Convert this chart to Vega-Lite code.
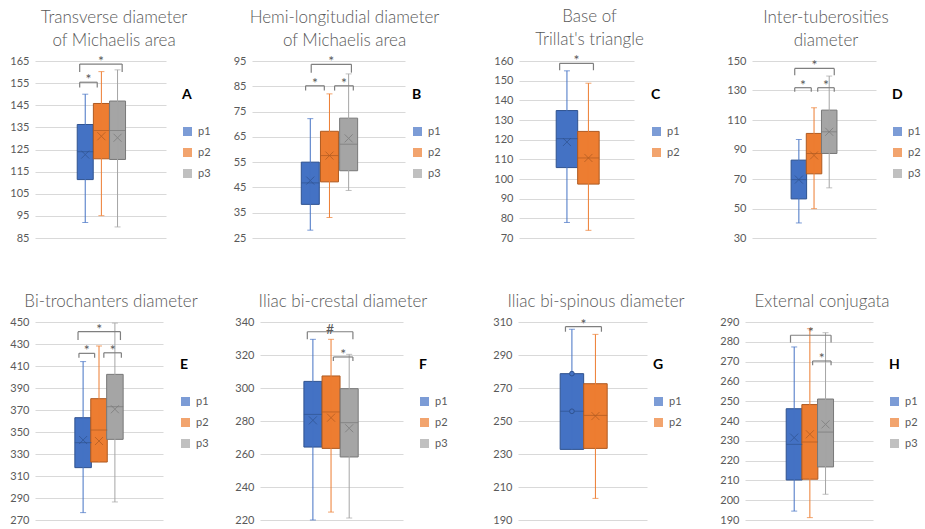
{
"$schema": "https://vega.github.io/schema/vega-lite/v6.json",
"padding": {"left": 0, "top": 8, "right": 0, "bottom": 0},
"background": "white",
"datasets": {
"boxes": [
{"panel":"A","group":"p1","g":1,"min":92,"q1":111.4,"median":124,"q3":136.3,"max":150,"mean":122.7},
{"panel":"A","group":"p2","g":2,"min":95.1,"q1":120.8,"median":133.6,"q3":145.8,"max":160.2,"mean":131},
{"panel":"A","group":"p3","g":3,"min":90,"q1":120.5,"median":133.6,"q3":146.9,"max":161,"mean":130.3},
{"panel":"B","group":"p1","g":1,"min":28.1,"q1":38.3,"median":46.8,"q3":55,"max":72.2,"mean":47.7},
{"panel":"B","group":"p2","g":2,"min":33.1,"q1":47.2,"median":57.6,"q3":67.2,"max":82,"mean":57.6},
{"panel":"B","group":"p3","g":3,"min":43.8,"q1":51.6,"median":62.1,"q3":72.4,"max":89.9,"mean":64.4},
{"panel":"C","group":"p1","g":1,"min":77.9,"q1":105.8,"median":120.5,"q3":134.8,"max":155,"mean":118.8},
{"panel":"C","group":"p2","g":2,"min":73.9,"q1":97.4,"median":110.7,"q3":124.2,"max":148.7,"mean":110.7},
{"panel":"D","group":"p1","g":1,"min":40.2,"q1":56.5,"median":69.6,"q3":82.8,"max":96.8,"mean":69.6},
{"panel":"D","group":"p2","g":2,"min":49.9,"q1":73.5,"median":87.3,"q3":100.9,"max":118.3,"mean":86},
{"panel":"D","group":"p3","g":3,"min":64,"q1":87.3,"median":102,"q3":116.7,"max":139.8,"mean":102},
{"panel":"E","group":"p1","g":1,"min":276.7,"q1":317.6,"median":340.3,"q3":363,"max":414,"mean":342.7},
{"panel":"E","group":"p2","g":2,"min":322.7,"q1":322.7,"median":351.8,"q3":380.3,"max":428.2,"mean":341.8},
{"panel":"E","group":"p3","g":3,"min":286.4,"q1":343.3,"median":373,"q3":402.4,"max":449,"mean":370.7},
{"panel":"F","group":"p1","g":1,"min":220,"q1":264.2,"median":284,"q3":304,"max":329.5,"mean":280.4},
{"panel":"F","group":"p2","g":2,"min":224.8,"q1":263.4,"median":285.5,"q3":307.3,"max":329.5,"mean":282},
{"panel":"F","group":"p3","g":3,"min":221.2,"q1":258.2,"median":279,"q3":299.6,"max":320.4,"mean":275.6},
{"panel":"G","group":"p1","g":1,"min":232.8,"q1":232.8,"median":255.9,"q3":278.7,"max":305.6,"mean":null},
{"panel":"G","group":"p2","g":2,"min":203.1,"q1":233.4,"median":253.4,"q3":272.6,"max":302.5,"mean":253},
{"panel":"H","group":"p1","g":1,"min":194.5,"q1":210.2,"median":228.2,"q3":246.2,"max":277.4,"mean":231.6},
{"panel":"H","group":"p2","g":2,"min":191.2,"q1":210.6,"median":229.4,"q3":248.3,"max":286.6,"mean":233.3},
{"panel":"H","group":"p3","g":3,"min":203,"q1":216.8,"median":234.4,"q3":251.1,"max":284.6,"mean":238.3}
],
"pts": [
{"panel":"G","group":"p1","g":1,"value":278.7},
{"panel":"G","group":"p1","g":1,"value":255.9}
],
"brackets": [
{"panel":"A","id":1,"x1":0.657,"x2":1.743,"level":155.4,"tip":153,"label":"*"},
{"panel":"A","id":2,"x1":0.657,"x2":3.286,"level":163.6,"tip":160,"label":"*"},
{"panel":"B","id":1,"x1":0.756,"x2":1.732,"level":85.2,"tip":83.3,"label":"*"},
{"panel":"B","id":2,"x1":2.268,"x2":3.244,"level":85.2,"tip":83.3,"label":"*"},
{"panel":"B","id":3,"x1":1.049,"x2":3.146,"level":93.7,"tip":90.4,"label":"*"},
{"panel":"C","id":1,"x1":0.66,"x2":2.234,"level":158.8,"tip":155.3,"label":"*"},
{"panel":"D","id":1,"x1":0.727,"x2":1.818,"level":131.9,"tip":129.2,"label":"*"},
{"panel":"D","id":2,"x1":2.242,"x2":3.333,"level":131.9,"tip":129.2,"label":"*"},
{"panel":"D","id":3,"x1":0.727,"x2":3.333,"level":145,"tip":140.3,"label":"*"},
{"panel":"E","id":1,"x1":0.739,"x2":1.725,"level":421.5,"tip":417.6,"label":"*"},
{"panel":"E","id":2,"x1":2.304,"x2":3.406,"level":422,"tip":417.6,"label":"*"},
{"panel":"E","id":3,"x1":0.681,"x2":3.348,"level":441.2,"tip":433.6,"label":"*"},
{"panel":"F","id":1,"x1":0.692,"x2":3.205,"level":334.1,"tip":329.5,"label":"#"},
{"panel":"F","id":2,"x1":2.128,"x2":3.205,"level":318.8,"tip":316.4,"label":"*"},
{"panel":"G","id":1,"x1":0.725,"x2":2.255,"level":307.2,"tip":304.1,"label":"*"},
{"panel":"H","id":1,"x1":0.765,"x2":3.353,"level":283.3,"tip":279.6,"label":"*"},
{"panel":"H","id":2,"x1":2.176,"x2":3.353,"level":270.3,"tip":268.2,"label":"*"}
]
},
"config": {
"view": {"stroke": null},
"font": "Lato",
"axis": {"domain": false, "ticks": false, "tickSize": 0, "labelPadding": 6, "labelColor": "#595959", "labelFontSize": 11, "labelFont": "Lato", "gridColor": "#D9D9D9", "gridWidth": 1},
"legend": {"orient": "none", "titleFontSize": 14, "titleFontWeight": "bold", "titleColor": "#000000", "titleFont": "Lato", "titlePadding": 24, "labelFontSize": 11, "labelColor": "#595959", "labelFont": "Lato", "symbolType": "square", "symbolSize": 81, "symbolStrokeWidth": 0, "rowPadding": 9, "labelOffset": 5, "padding": 0},
"title": {"fontSize": 17, "fontWeight": 300, "color": "#595959", "font": "Lato", "offset": 5, "lineHeight": 23, "anchor": "middle", "frame": "group"}
},
"spacing": 50,
"resolve": {"scale": {"color": "independent", "stroke": "independent", "fill": "independent", "x": "independent", "y": "independent"}},
"vconcat": [
{"spacing": 0, "resolve": {"scale": {"color": "independent", "stroke": "independent", "fill": "independent", "x": "independent", "y": "independent"}}, "hconcat": [
{"width": 131, "height": 177, "title": {"text": ["Transverse diameter", "of Michaelis area"], "dx": 13.5},
"data": {"name": "boxes"}, "transform": [{"filter": "datum.panel === 'A'"}],
"layer": [
{"mark": {"type": "bar", "width": 16, "strokeWidth": 1},
"encoding": {
"x": {"field": "g", "type": "quantitative", "scale": {"domain": [-1.8, 5.69], "nice": false, "zero": false}, "axis": null},
"y": {"field": "q1", "type": "quantitative", "scale": {"domain": [85, 165], "nice": false, "zero": false}, "axis": {"values": [85,95,105,115,125,135,145,155,165], "minExtent": 33, "title": null}},
"y2": {"field": "q3"},
"color": {"field": "group", "type": "nominal", "scale": {"domain": ["p1","p2","p3"], "range": ["#4472C4","#ED7D31","#A5A5A5"]}, "legend": {"title": "A", "legendX": 147, "legendY": 27}},
"stroke": {"field": "group", "type": "nominal", "scale": {"domain": ["p1","p2","p3"], "range": ["#2F528F","#AE5A21","#787878"]}, "legend": null}}},
{"mark": {"type": "rule", "strokeWidth": 1},
"encoding": {
"x": {"field": "g", "type": "quantitative", "scale": {"domain": [-1.8, 5.69], "nice": false, "zero": false}, "axis": null},
"y": {"field": "min", "type": "quantitative", "scale": {"domain": [85, 165], "nice": false, "zero": false}, "axis": {"values": [85,95,105,115,125,135,145,155,165], "minExtent": 33, "title": null}},
"y2": {"field": "max"},
"color": {"field": "group", "type": "nominal", "scale": {"domain": ["p1","p2","p3"], "range": ["#4472C4","#ED7D31","#A5A5A5"]}, "legend": {"title": "A", "legendX": 147, "legendY": 27}}}},
{"transform": [{"fold": ["min","max"], "as": ["k","v"]}, {"filter": "datum.k === 'max' || datum.min < datum.q1"}],
"mark": {"type": "tick", "orient": "horizontal", "size": 6, "thickness": 1},
"encoding": {
"x": {"field": "g", "type": "quantitative", "scale": {"domain": [-1.8, 5.69], "nice": false, "zero": false}, "axis": null},
"y": {"field": "v", "type": "quantitative", "scale": {"domain": [85, 165], "nice": false, "zero": false}, "axis": {"values": [85,95,105,115,125,135,145,155,165], "minExtent": 33, "title": null}},
"color": {"field": "group", "type": "nominal", "scale": {"domain": ["p1","p2","p3"], "range": ["#4472C4","#ED7D31","#A5A5A5"]}, "legend": {"title": "A", "legendX": 147, "legendY": 27}}}},
{"mark": {"type": "tick", "orient": "horizontal", "size": 16, "thickness": 1},
"encoding": {
"x": {"field": "g", "type": "quantitative", "scale": {"domain": [-1.8, 5.69], "nice": false, "zero": false}, "axis": null},
"y": {"field": "median", "type": "quantitative", "scale": {"domain": [85, 165], "nice": false, "zero": false}, "axis": {"values": [85,95,105,115,125,135,145,155,165], "minExtent": 33, "title": null}},
"fill": {"field": "group", "type": "nominal", "scale": {"domain": ["p1","p2","p3"], "range": ["#2F528F","#AE5A21","#787878"]}, "legend": null}}},
{"transform": [{"filter": "isValid(datum.mean)"}],
"mark": {"type": "point", "shape": "M-1,-1L1,1M-1,1L1,-1", "size": 64, "filled": false, "strokeWidth": 1},
"encoding": {
"x": {"field": "g", "type": "quantitative", "scale": {"domain": [-1.8, 5.69], "nice": false, "zero": false}, "axis": null},
"y": {"field": "mean", "type": "quantitative", "scale": {"domain": [85, 165], "nice": false, "zero": false}, "axis": {"values": [85,95,105,115,125,135,145,155,165], "minExtent": 33, "title": null}},
"stroke": {"field": "group", "type": "nominal", "scale": {"domain": ["p1","p2","p3"], "range": ["#2F528F","#AE5A21","#787878"]}, "legend": null}}},
{"data": {"name": "brackets"}, "transform": [{"filter": "datum.panel === 'A'"}],
"mark": {"type": "rule", "color": "#7F7F7F", "strokeWidth": 1.2},
"encoding": {
"x": {"field": "x1", "type": "quantitative", "scale": {"domain": [-1.8, 5.69], "nice": false, "zero": false}, "axis": null},
"x2": {"field": "x2"},
"y": {"field": "level", "type": "quantitative", "scale": {"domain": [85, 165], "nice": false, "zero": false}, "axis": {"values": [85,95,105,115,125,135,145,155,165], "minExtent": 33, "title": null}}}},
{"data": {"name": "brackets"}, "transform": [{"filter": "datum.panel === 'A'"}, {"fold": ["x1","x2"], "as": ["e","xe"]}],
"mark": {"type": "rule", "color": "#7F7F7F", "strokeWidth": 1.2},
"encoding": {
"x": {"field": "xe", "type": "quantitative", "scale": {"domain": [-1.8, 5.69], "nice": false, "zero": false}, "axis": null},
"y": {"field": "level", "type": "quantitative", "scale": {"domain": [85, 165], "nice": false, "zero": false}, "axis": {"values": [85,95,105,115,125,135,145,155,165], "minExtent": 33, "title": null}},
"y2": {"field": "tip"}}},
{"data": {"name": "brackets"}, "transform": [{"filter": "datum.panel === 'A'"}, {"fold": ["x1","x2"], "as": ["e","xe"]}, {"aggregate": [{"op": "mean", "field": "xe", "as": "mid"}], "groupby": ["id","level","label"]}],
"mark": {"type": "text", "fontSize": 14, "color": "#595959", "baseline": "alphabetic", "dy": 2},
"encoding": {
"x": {"field": "mid", "type": "quantitative", "scale": {"domain": [-1.8, 5.69], "nice": false, "zero": false}, "axis": null},
"y": {"field": "level", "type": "quantitative", "scale": {"domain": [85, 165], "nice": false, "zero": false}, "axis": {"values": [85,95,105,115,125,135,145,155,165], "minExtent": 33, "title": null}},
"text": {"field": "label"}}}
]},
{"width": 153, "height": 177, "title": {"text": ["Hemi-longitudial diameter", "of Michaelis area"], "dx": 16},
"data": {"name": "boxes"}, "transform": [{"filter": "datum.panel === 'B'"}],
"layer": [
{"mark": {"type": "bar", "width": 18, "strokeWidth": 1},
"encoding": {
"x": {"field": "g", "type": "quantitative", "scale": {"domain": [-1.78, 5.68], "nice": false, "zero": false}, "axis": null},
"y": {"field": "q1", "type": "quantitative", "scale": {"domain": [25, 95], "nice": false, "zero": false}, "axis": {"values": [25,35,45,55,65,75,85,95], "minExtent": 41, "title": null}},
"y2": {"field": "q3"},
"color": {"field": "group", "type": "nominal", "scale": {"domain": ["p1","p2","p3"], "range": ["#4472C4","#ED7D31","#A5A5A5"]}, "legend": {"title": "B", "legendX": 160, "legendY": 27}},
"stroke": {"field": "group", "type": "nominal", "scale": {"domain": ["p1","p2","p3"], "range": ["#2F528F","#AE5A21","#787878"]}, "legend": null}}},
{"mark": {"type": "rule", "strokeWidth": 1},
"encoding": {
"x": {"field": "g", "type": "quantitative", "scale": {"domain": [-1.78, 5.68], "nice": false, "zero": false}, "axis": null},
"y": {"field": "min", "type": "quantitative", "scale": {"domain": [25, 95], "nice": false, "zero": false}, "axis": {"values": [25,35,45,55,65,75,85,95], "minExtent": 41, "title": null}},
"y2": {"field": "max"},
"color": {"field": "group", "type": "nominal", "scale": {"domain": ["p1","p2","p3"], "range": ["#4472C4","#ED7D31","#A5A5A5"]}, "legend": {"title": "B", "legendX": 160, "legendY": 27}}}},
{"transform": [{"fold": ["min","max"], "as": ["k","v"]}, {"filter": "datum.k === 'max' || datum.min < datum.q1"}],
"mark": {"type": "tick", "orient": "horizontal", "size": 6, "thickness": 1},
"encoding": {
"x": {"field": "g", "type": "quantitative", "scale": {"domain": [-1.78, 5.68], "nice": false, "zero": false}, "axis": null},
"y": {"field": "v", "type": "quantitative", "scale": {"domain": [25, 95], "nice": false, "zero": false}, "axis": {"values": [25,35,45,55,65,75,85,95], "minExtent": 41, "title": null}},
"color": {"field": "group", "type": "nominal", "scale": {"domain": ["p1","p2","p3"], "range": ["#4472C4","#ED7D31","#A5A5A5"]}, "legend": {"title": "B", "legendX": 160, "legendY": 27}}}},
{"mark": {"type": "tick", "orient": "horizontal", "size": 18, "thickness": 1},
"encoding": {
"x": {"field": "g", "type": "quantitative", "scale": {"domain": [-1.78, 5.68], "nice": false, "zero": false}, "axis": null},
"y": {"field": "median", "type": "quantitative", "scale": {"domain": [25, 95], "nice": false, "zero": false}, "axis": {"values": [25,35,45,55,65,75,85,95], "minExtent": 41, "title": null}},
"fill": {"field": "group", "type": "nominal", "scale": {"domain": ["p1","p2","p3"], "range": ["#2F528F","#AE5A21","#787878"]}, "legend": null}}},
{"transform": [{"filter": "isValid(datum.mean)"}],
"mark": {"type": "point", "shape": "M-1,-1L1,1M-1,1L1,-1", "size": 64, "filled": false, "strokeWidth": 1},
"encoding": {
"x": {"field": "g", "type": "quantitative", "scale": {"domain": [-1.78, 5.68], "nice": false, "zero": false}, "axis": null},
"y": {"field": "mean", "type": "quantitative", "scale": {"domain": [25, 95], "nice": false, "zero": false}, "axis": {"values": [25,35,45,55,65,75,85,95], "minExtent": 41, "title": null}},
"stroke": {"field": "group", "type": "nominal", "scale": {"domain": ["p1","p2","p3"], "range": ["#2F528F","#AE5A21","#787878"]}, "legend": null}}},
{"data": {"name": "brackets"}, "transform": [{"filter": "datum.panel === 'B'"}],
"mark": {"type": "rule", "color": "#7F7F7F", "strokeWidth": 1.2},
"encoding": {
"x": {"field": "x1", "type": "quantitative", "scale": {"domain": [-1.78, 5.68], "nice": false, "zero": false}, "axis": null},
"x2": {"field": "x2"},
"y": {"field": "level", "type": "quantitative", "scale": {"domain": [25, 95], "nice": false, "zero": false}, "axis": {"values": [25,35,45,55,65,75,85,95], "minExtent": 41, "title": null}}}},
{"data": {"name": "brackets"}, "transform": [{"filter": "datum.panel === 'B'"}, {"fold": ["x1","x2"], "as": ["e","xe"]}],
"mark": {"type": "rule", "color": "#7F7F7F", "strokeWidth": 1.2},
"encoding": {
"x": {"field": "xe", "type": "quantitative", "scale": {"domain": [-1.78, 5.68], "nice": false, "zero": false}, "axis": null},
"y": {"field": "level", "type": "quantitative", "scale": {"domain": [25, 95], "nice": false, "zero": false}, "axis": {"values": [25,35,45,55,65,75,85,95], "minExtent": 41, "title": null}},
"y2": {"field": "tip"}}},
{"data": {"name": "brackets"}, "transform": [{"filter": "datum.panel === 'B'"}, {"fold": ["x1","x2"], "as": ["e","xe"]}, {"aggregate": [{"op": "mean", "field": "xe", "as": "mid"}], "groupby": ["id","level","label"]}],
"mark": {"type": "text", "fontSize": 14, "color": "#595959", "baseline": "alphabetic", "dy": 2},
"encoding": {
"x": {"field": "mid", "type": "quantitative", "scale": {"domain": [-1.78, 5.68], "nice": false, "zero": false}, "axis": null},
"y": {"field": "level", "type": "quantitative", "scale": {"domain": [25, 95], "nice": false, "zero": false}, "axis": {"values": [25,35,45,55,65,75,85,95], "minExtent": 41, "title": null}},
"text": {"field": "label"}}}
]},
{"width": 115, "height": 177, "title": {"text": ["Base of", "Trillat's triangle"], "dx": 13},
"data": {"name": "boxes"}, "transform": [{"filter": "datum.panel === 'C'"}],
"layer": [
{"mark": {"type": "bar", "width": 21.5, "strokeWidth": 1},
"encoding": {
"x": {"field": "g", "type": "quantitative", "scale": {"domain": [-1.0, 3.89], "nice": false, "zero": false}, "axis": null},
"y": {"field": "q1", "type": "quantitative", "scale": {"domain": [70, 160], "nice": false, "zero": false}, "axis": {"values": [70,80,90,100,110,120,130,140,150,160], "minExtent": 78, "title": null}},
"y2": {"field": "q3"},
"color": {"field": "group", "type": "nominal", "scale": {"domain": ["p1","p2"], "range": ["#4472C4","#ED7D31"]}, "legend": {"title": "C", "legendX": 132, "legendY": 27}},
"stroke": {"field": "group", "type": "nominal", "scale": {"domain": ["p1","p2"], "range": ["#2F528F","#AE5A21"]}, "legend": null}}},
{"mark": {"type": "rule", "strokeWidth": 1},
"encoding": {
"x": {"field": "g", "type": "quantitative", "scale": {"domain": [-1.0, 3.89], "nice": false, "zero": false}, "axis": null},
"y": {"field": "min", "type": "quantitative", "scale": {"domain": [70, 160], "nice": false, "zero": false}, "axis": {"values": [70,80,90,100,110,120,130,140,150,160], "minExtent": 78, "title": null}},
"y2": {"field": "max"},
"color": {"field": "group", "type": "nominal", "scale": {"domain": ["p1","p2"], "range": ["#4472C4","#ED7D31"]}, "legend": {"title": "C", "legendX": 132, "legendY": 27}}}},
{"transform": [{"fold": ["min","max"], "as": ["k","v"]}, {"filter": "datum.k === 'max' || datum.min < datum.q1"}],
"mark": {"type": "tick", "orient": "horizontal", "size": 6, "thickness": 1},
"encoding": {
"x": {"field": "g", "type": "quantitative", "scale": {"domain": [-1.0, 3.89], "nice": false, "zero": false}, "axis": null},
"y": {"field": "v", "type": "quantitative", "scale": {"domain": [70, 160], "nice": false, "zero": false}, "axis": {"values": [70,80,90,100,110,120,130,140,150,160], "minExtent": 78, "title": null}},
"color": {"field": "group", "type": "nominal", "scale": {"domain": ["p1","p2"], "range": ["#4472C4","#ED7D31"]}, "legend": {"title": "C", "legendX": 132, "legendY": 27}}}},
{"mark": {"type": "tick", "orient": "horizontal", "size": 21.5, "thickness": 1},
"encoding": {
"x": {"field": "g", "type": "quantitative", "scale": {"domain": [-1.0, 3.89], "nice": false, "zero": false}, "axis": null},
"y": {"field": "median", "type": "quantitative", "scale": {"domain": [70, 160], "nice": false, "zero": false}, "axis": {"values": [70,80,90,100,110,120,130,140,150,160], "minExtent": 78, "title": null}},
"fill": {"field": "group", "type": "nominal", "scale": {"domain": ["p1","p2"], "range": ["#2F528F","#AE5A21"]}, "legend": null}}},
{"transform": [{"filter": "isValid(datum.mean)"}],
"mark": {"type": "point", "shape": "M-1,-1L1,1M-1,1L1,-1", "size": 64, "filled": false, "strokeWidth": 1},
"encoding": {
"x": {"field": "g", "type": "quantitative", "scale": {"domain": [-1.0, 3.89], "nice": false, "zero": false}, "axis": null},
"y": {"field": "mean", "type": "quantitative", "scale": {"domain": [70, 160], "nice": false, "zero": false}, "axis": {"values": [70,80,90,100,110,120,130,140,150,160], "minExtent": 78, "title": null}},
"stroke": {"field": "group", "type": "nominal", "scale": {"domain": ["p1","p2"], "range": ["#2F528F","#AE5A21"]}, "legend": null}}},
{"data": {"name": "brackets"}, "transform": [{"filter": "datum.panel === 'C'"}],
"mark": {"type": "rule", "color": "#7F7F7F", "strokeWidth": 1.2},
"encoding": {
"x": {"field": "x1", "type": "quantitative", "scale": {"domain": [-1.0, 3.89], "nice": false, "zero": false}, "axis": null},
"x2": {"field": "x2"},
"y": {"field": "level", "type": "quantitative", "scale": {"domain": [70, 160], "nice": false, "zero": false}, "axis": {"values": [70,80,90,100,110,120,130,140,150,160], "minExtent": 78, "title": null}}}},
{"data": {"name": "brackets"}, "transform": [{"filter": "datum.panel === 'C'"}, {"fold": ["x1","x2"], "as": ["e","xe"]}],
"mark": {"type": "rule", "color": "#7F7F7F", "strokeWidth": 1.2},
"encoding": {
"x": {"field": "xe", "type": "quantitative", "scale": {"domain": [-1.0, 3.89], "nice": false, "zero": false}, "axis": null},
"y": {"field": "level", "type": "quantitative", "scale": {"domain": [70, 160], "nice": false, "zero": false}, "axis": {"values": [70,80,90,100,110,120,130,140,150,160], "minExtent": 78, "title": null}},
"y2": {"field": "tip"}}},
{"data": {"name": "brackets"}, "transform": [{"filter": "datum.panel === 'C'"}, {"fold": ["x1","x2"], "as": ["e","xe"]}, {"aggregate": [{"op": "mean", "field": "xe", "as": "mid"}], "groupby": ["id","level","label"]}],
"mark": {"type": "text", "fontSize": 14, "color": "#595959", "baseline": "alphabetic", "dy": 2},
"encoding": {
"x": {"field": "mid", "type": "quantitative", "scale": {"domain": [-1.0, 3.89], "nice": false, "zero": false}, "axis": null},
"y": {"field": "level", "type": "quantitative", "scale": {"domain": [70, 160], "nice": false, "zero": false}, "axis": {"values": [70,80,90,100,110,120,130,140,150,160], "minExtent": 78, "title": null}},
"text": {"field": "label"}}}
]},
{"width": 124, "height": 177, "title": {"text": ["Inter-tuberosities", "diameter"], "dx": 12},
"data": {"name": "boxes"}, "transform": [{"filter": "datum.panel === 'D'"}],
"layer": [
{"mark": {"type": "bar", "width": 15.5, "strokeWidth": 1},
"encoding": {
"x": {"field": "g", "type": "quantitative", "scale": {"domain": [-1.76, 5.755], "nice": false, "zero": false}, "axis": null},
"y": {"field": "q1", "type": "quantitative", "scale": {"domain": [30, 150], "nice": false, "zero": false}, "axis": {"values": [30,50,70,90,110,130,150], "minExtent": 72, "title": null}},
"y2": {"field": "q3"},
"color": {"field": "group", "type": "nominal", "scale": {"domain": ["p1","p2","p3"], "range": ["#4472C4","#ED7D31","#A5A5A5"]}, "legend": {"title": "D", "legendX": 140, "legendY": 27}},
"stroke": {"field": "group", "type": "nominal", "scale": {"domain": ["p1","p2","p3"], "range": ["#2F528F","#AE5A21","#787878"]}, "legend": null}}},
{"mark": {"type": "rule", "strokeWidth": 1},
"encoding": {
"x": {"field": "g", "type": "quantitative", "scale": {"domain": [-1.76, 5.755], "nice": false, "zero": false}, "axis": null},
"y": {"field": "min", "type": "quantitative", "scale": {"domain": [30, 150], "nice": false, "zero": false}, "axis": {"values": [30,50,70,90,110,130,150], "minExtent": 72, "title": null}},
"y2": {"field": "max"},
"color": {"field": "group", "type": "nominal", "scale": {"domain": ["p1","p2","p3"], "range": ["#4472C4","#ED7D31","#A5A5A5"]}, "legend": {"title": "D", "legendX": 140, "legendY": 27}}}},
{"transform": [{"fold": ["min","max"], "as": ["k","v"]}, {"filter": "datum.k === 'max' || datum.min < datum.q1"}],
"mark": {"type": "tick", "orient": "horizontal", "size": 6, "thickness": 1},
"encoding": {
"x": {"field": "g", "type": "quantitative", "scale": {"domain": [-1.76, 5.755], "nice": false, "zero": false}, "axis": null},
"y": {"field": "v", "type": "quantitative", "scale": {"domain": [30, 150], "nice": false, "zero": false}, "axis": {"values": [30,50,70,90,110,130,150], "minExtent": 72, "title": null}},
"color": {"field": "group", "type": "nominal", "scale": {"domain": ["p1","p2","p3"], "range": ["#4472C4","#ED7D31","#A5A5A5"]}, "legend": {"title": "D", "legendX": 140, "legendY": 27}}}},
{"mark": {"type": "tick", "orient": "horizontal", "size": 15.5, "thickness": 1},
"encoding": {
"x": {"field": "g", "type": "quantitative", "scale": {"domain": [-1.76, 5.755], "nice": false, "zero": false}, "axis": null},
"y": {"field": "median", "type": "quantitative", "scale": {"domain": [30, 150], "nice": false, "zero": false}, "axis": {"values": [30,50,70,90,110,130,150], "minExtent": 72, "title": null}},
"fill": {"field": "group", "type": "nominal", "scale": {"domain": ["p1","p2","p3"], "range": ["#2F528F","#AE5A21","#787878"]}, "legend": null}}},
{"transform": [{"filter": "isValid(datum.mean)"}],
"mark": {"type": "point", "shape": "M-1,-1L1,1M-1,1L1,-1", "size": 64, "filled": false, "strokeWidth": 1},
"encoding": {
"x": {"field": "g", "type": "quantitative", "scale": {"domain": [-1.76, 5.755], "nice": false, "zero": false}, "axis": null},
"y": {"field": "mean", "type": "quantitative", "scale": {"domain": [30, 150], "nice": false, "zero": false}, "axis": {"values": [30,50,70,90,110,130,150], "minExtent": 72, "title": null}},
"stroke": {"field": "group", "type": "nominal", "scale": {"domain": ["p1","p2","p3"], "range": ["#2F528F","#AE5A21","#787878"]}, "legend": null}}},
{"data": {"name": "brackets"}, "transform": [{"filter": "datum.panel === 'D'"}],
"mark": {"type": "rule", "color": "#7F7F7F", "strokeWidth": 1.2},
"encoding": {
"x": {"field": "x1", "type": "quantitative", "scale": {"domain": [-1.76, 5.755], "nice": false, "zero": false}, "axis": null},
"x2": {"field": "x2"},
"y": {"field": "level", "type": "quantitative", "scale": {"domain": [30, 150], "nice": false, "zero": false}, "axis": {"values": [30,50,70,90,110,130,150], "minExtent": 72, "title": null}}}},
{"data": {"name": "brackets"}, "transform": [{"filter": "datum.panel === 'D'"}, {"fold": ["x1","x2"], "as": ["e","xe"]}],
"mark": {"type": "rule", "color": "#7F7F7F", "strokeWidth": 1.2},
"encoding": {
"x": {"field": "xe", "type": "quantitative", "scale": {"domain": [-1.76, 5.755], "nice": false, "zero": false}, "axis": null},
"y": {"field": "level", "type": "quantitative", "scale": {"domain": [30, 150], "nice": false, "zero": false}, "axis": {"values": [30,50,70,90,110,130,150], "minExtent": 72, "title": null}},
"y2": {"field": "tip"}}},
{"data": {"name": "brackets"}, "transform": [{"filter": "datum.panel === 'D'"}, {"fold": ["x1","x2"], "as": ["e","xe"]}, {"aggregate": [{"op": "mean", "field": "xe", "as": "mid"}], "groupby": ["id","level","label"]}],
"mark": {"type": "text", "fontSize": 14, "color": "#595959", "baseline": "alphabetic", "dy": 2},
"encoding": {
"x": {"field": "mid", "type": "quantitative", "scale": {"domain": [-1.76, 5.755], "nice": false, "zero": false}, "axis": null},
"y": {"field": "level", "type": "quantitative", "scale": {"domain": [30, 150], "nice": false, "zero": false}, "axis": {"values": [30,50,70,90,110,130,150], "minExtent": 72, "title": null}},
"text": {"field": "label"}}}
]}
]},
{"spacing": 0, "resolve": {"scale": {"color": "independent", "stroke": "independent", "fill": "independent", "x": "independent", "y": "independent"}}, "hconcat": [
{"width": 128, "height": 198, "title": {"text": "Bi-trochanters diameter", "dx": 12},
"data": {"name": "boxes"}, "transform": [{"filter": "datum.panel === 'E'"}],
"layer": [
{"mark": {"type": "bar", "width": 16.5, "strokeWidth": 1},
"encoding": {
"x": {"field": "g", "type": "quantitative", "scale": {"domain": [-1.71, 5.71], "nice": false, "zero": false}, "axis": null},
"y": {"field": "q1", "type": "quantitative", "scale": {"domain": [270, 450], "nice": false, "zero": false}, "axis": {"values": [270,290,310,330,350,370,390,410,430,450], "minExtent": 35, "title": null}},
"y2": {"field": "q3"},
"color": {"field": "group", "type": "nominal", "scale": {"domain": ["p1","p2","p3"], "range": ["#4472C4","#ED7D31","#A5A5A5"]}, "legend": {"title": "E", "legendX": 145, "legendY": 36}},
"stroke": {"field": "group", "type": "nominal", "scale": {"domain": ["p1","p2","p3"], "range": ["#2F528F","#AE5A21","#787878"]}, "legend": null}}},
{"mark": {"type": "rule", "strokeWidth": 1},
"encoding": {
"x": {"field": "g", "type": "quantitative", "scale": {"domain": [-1.71, 5.71], "nice": false, "zero": false}, "axis": null},
"y": {"field": "min", "type": "quantitative", "scale": {"domain": [270, 450], "nice": false, "zero": false}, "axis": {"values": [270,290,310,330,350,370,390,410,430,450], "minExtent": 35, "title": null}},
"y2": {"field": "max"},
"color": {"field": "group", "type": "nominal", "scale": {"domain": ["p1","p2","p3"], "range": ["#4472C4","#ED7D31","#A5A5A5"]}, "legend": {"title": "E", "legendX": 145, "legendY": 36}}}},
{"transform": [{"fold": ["min","max"], "as": ["k","v"]}, {"filter": "datum.k === 'max' || datum.min < datum.q1"}],
"mark": {"type": "tick", "orient": "horizontal", "size": 6, "thickness": 1},
"encoding": {
"x": {"field": "g", "type": "quantitative", "scale": {"domain": [-1.71, 5.71], "nice": false, "zero": false}, "axis": null},
"y": {"field": "v", "type": "quantitative", "scale": {"domain": [270, 450], "nice": false, "zero": false}, "axis": {"values": [270,290,310,330,350,370,390,410,430,450], "minExtent": 35, "title": null}},
"color": {"field": "group", "type": "nominal", "scale": {"domain": ["p1","p2","p3"], "range": ["#4472C4","#ED7D31","#A5A5A5"]}, "legend": {"title": "E", "legendX": 145, "legendY": 36}}}},
{"mark": {"type": "tick", "orient": "horizontal", "size": 16.5, "thickness": 1},
"encoding": {
"x": {"field": "g", "type": "quantitative", "scale": {"domain": [-1.71, 5.71], "nice": false, "zero": false}, "axis": null},
"y": {"field": "median", "type": "quantitative", "scale": {"domain": [270, 450], "nice": false, "zero": false}, "axis": {"values": [270,290,310,330,350,370,390,410,430,450], "minExtent": 35, "title": null}},
"fill": {"field": "group", "type": "nominal", "scale": {"domain": ["p1","p2","p3"], "range": ["#2F528F","#AE5A21","#787878"]}, "legend": null}}},
{"transform": [{"filter": "isValid(datum.mean)"}],
"mark": {"type": "point", "shape": "M-1,-1L1,1M-1,1L1,-1", "size": 64, "filled": false, "strokeWidth": 1},
"encoding": {
"x": {"field": "g", "type": "quantitative", "scale": {"domain": [-1.71, 5.71], "nice": false, "zero": false}, "axis": null},
"y": {"field": "mean", "type": "quantitative", "scale": {"domain": [270, 450], "nice": false, "zero": false}, "axis": {"values": [270,290,310,330,350,370,390,410,430,450], "minExtent": 35, "title": null}},
"stroke": {"field": "group", "type": "nominal", "scale": {"domain": ["p1","p2","p3"], "range": ["#2F528F","#AE5A21","#787878"]}, "legend": null}}},
{"data": {"name": "brackets"}, "transform": [{"filter": "datum.panel === 'E'"}],
"mark": {"type": "rule", "color": "#7F7F7F", "strokeWidth": 1.2},
"encoding": {
"x": {"field": "x1", "type": "quantitative", "scale": {"domain": [-1.71, 5.71], "nice": false, "zero": false}, "axis": null},
"x2": {"field": "x2"},
"y": {"field": "level", "type": "quantitative", "scale": {"domain": [270, 450], "nice": false, "zero": false}, "axis": {"values": [270,290,310,330,350,370,390,410,430,450], "minExtent": 35, "title": null}}}},
{"data": {"name": "brackets"}, "transform": [{"filter": "datum.panel === 'E'"}, {"fold": ["x1","x2"], "as": ["e","xe"]}],
"mark": {"type": "rule", "color": "#7F7F7F", "strokeWidth": 1.2},
"encoding": {
"x": {"field": "xe", "type": "quantitative", "scale": {"domain": [-1.71, 5.71], "nice": false, "zero": false}, "axis": null},
"y": {"field": "level", "type": "quantitative", "scale": {"domain": [270, 450], "nice": false, "zero": false}, "axis": {"values": [270,290,310,330,350,370,390,410,430,450], "minExtent": 35, "title": null}},
"y2": {"field": "tip"}}},
{"data": {"name": "brackets"}, "transform": [{"filter": "datum.panel === 'E'"}, {"fold": ["x1","x2"], "as": ["e","xe"]}, {"aggregate": [{"op": "mean", "field": "xe", "as": "mid"}], "groupby": ["id","level","label"]}],
"mark": {"type": "text", "fontSize": 14, "color": "#595959", "baseline": "alphabetic", "dy": 2},
"encoding": {
"x": {"field": "mid", "type": "quantitative", "scale": {"domain": [-1.71, 5.71], "nice": false, "zero": false}, "axis": null},
"y": {"field": "level", "type": "quantitative", "scale": {"domain": [270, 450], "nice": false, "zero": false}, "axis": {"values": [270,290,310,330,350,370,390,410,430,450], "minExtent": 35, "title": null}},
"text": {"field": "label"}}}
]},
{"width": 143, "height": 198, "title": {"text": "Iliac bi-crestal diameter", "dx": 11.5},
"data": {"name": "boxes"}, "transform": [{"filter": "datum.panel === 'F'"}],
"layer": [
{"mark": {"type": "bar", "width": 18, "strokeWidth": 1},
"encoding": {
"x": {"field": "g", "type": "quantitative", "scale": {"domain": [-1.64, 5.69], "nice": false, "zero": false}, "axis": null},
"y": {"field": "q1", "type": "quantitative", "scale": {"domain": [220, 340], "nice": false, "zero": false}, "axis": {"values": [220,240,260,280,300,320,340], "minExtent": 51, "title": null}},
"y2": {"field": "q3"},
"color": {"field": "group", "type": "nominal", "scale": {"domain": ["p1","p2","p3"], "range": ["#4472C4","#ED7D31","#A5A5A5"]}, "legend": {"title": "F", "legendX": 159, "legendY": 36}},
"stroke": {"field": "group", "type": "nominal", "scale": {"domain": ["p1","p2","p3"], "range": ["#2F528F","#AE5A21","#787878"]}, "legend": null}}},
{"mark": {"type": "rule", "strokeWidth": 1},
"encoding": {
"x": {"field": "g", "type": "quantitative", "scale": {"domain": [-1.64, 5.69], "nice": false, "zero": false}, "axis": null},
"y": {"field": "min", "type": "quantitative", "scale": {"domain": [220, 340], "nice": false, "zero": false}, "axis": {"values": [220,240,260,280,300,320,340], "minExtent": 51, "title": null}},
"y2": {"field": "max"},
"color": {"field": "group", "type": "nominal", "scale": {"domain": ["p1","p2","p3"], "range": ["#4472C4","#ED7D31","#A5A5A5"]}, "legend": {"title": "F", "legendX": 159, "legendY": 36}}}},
{"transform": [{"fold": ["min","max"], "as": ["k","v"]}, {"filter": "datum.k === 'max' || datum.min < datum.q1"}],
"mark": {"type": "tick", "orient": "horizontal", "size": 6, "thickness": 1},
"encoding": {
"x": {"field": "g", "type": "quantitative", "scale": {"domain": [-1.64, 5.69], "nice": false, "zero": false}, "axis": null},
"y": {"field": "v", "type": "quantitative", "scale": {"domain": [220, 340], "nice": false, "zero": false}, "axis": {"values": [220,240,260,280,300,320,340], "minExtent": 51, "title": null}},
"color": {"field": "group", "type": "nominal", "scale": {"domain": ["p1","p2","p3"], "range": ["#4472C4","#ED7D31","#A5A5A5"]}, "legend": {"title": "F", "legendX": 159, "legendY": 36}}}},
{"mark": {"type": "tick", "orient": "horizontal", "size": 18, "thickness": 1},
"encoding": {
"x": {"field": "g", "type": "quantitative", "scale": {"domain": [-1.64, 5.69], "nice": false, "zero": false}, "axis": null},
"y": {"field": "median", "type": "quantitative", "scale": {"domain": [220, 340], "nice": false, "zero": false}, "axis": {"values": [220,240,260,280,300,320,340], "minExtent": 51, "title": null}},
"fill": {"field": "group", "type": "nominal", "scale": {"domain": ["p1","p2","p3"], "range": ["#2F528F","#AE5A21","#787878"]}, "legend": null}}},
{"transform": [{"filter": "isValid(datum.mean)"}],
"mark": {"type": "point", "shape": "M-1,-1L1,1M-1,1L1,-1", "size": 64, "filled": false, "strokeWidth": 1},
"encoding": {
"x": {"field": "g", "type": "quantitative", "scale": {"domain": [-1.64, 5.69], "nice": false, "zero": false}, "axis": null},
"y": {"field": "mean", "type": "quantitative", "scale": {"domain": [220, 340], "nice": false, "zero": false}, "axis": {"values": [220,240,260,280,300,320,340], "minExtent": 51, "title": null}},
"stroke": {"field": "group", "type": "nominal", "scale": {"domain": ["p1","p2","p3"], "range": ["#2F528F","#AE5A21","#787878"]}, "legend": null}}},
{"data": {"name": "brackets"}, "transform": [{"filter": "datum.panel === 'F'"}],
"mark": {"type": "rule", "color": "#7F7F7F", "strokeWidth": 1.2},
"encoding": {
"x": {"field": "x1", "type": "quantitative", "scale": {"domain": [-1.64, 5.69], "nice": false, "zero": false}, "axis": null},
"x2": {"field": "x2"},
"y": {"field": "level", "type": "quantitative", "scale": {"domain": [220, 340], "nice": false, "zero": false}, "axis": {"values": [220,240,260,280,300,320,340], "minExtent": 51, "title": null}}}},
{"data": {"name": "brackets"}, "transform": [{"filter": "datum.panel === 'F'"}, {"fold": ["x1","x2"], "as": ["e","xe"]}],
"mark": {"type": "rule", "color": "#7F7F7F", "strokeWidth": 1.2},
"encoding": {
"x": {"field": "xe", "type": "quantitative", "scale": {"domain": [-1.64, 5.69], "nice": false, "zero": false}, "axis": null},
"y": {"field": "level", "type": "quantitative", "scale": {"domain": [220, 340], "nice": false, "zero": false}, "axis": {"values": [220,240,260,280,300,320,340], "minExtent": 51, "title": null}},
"y2": {"field": "tip"}}},
{"data": {"name": "brackets"}, "transform": [{"filter": "datum.panel === 'F'"}, {"fold": ["x1","x2"], "as": ["e","xe"]}, {"aggregate": [{"op": "mean", "field": "xe", "as": "mid"}], "groupby": ["id","level","label"]}],
"mark": {"type": "text", "fontSize": 14, "color": "#595959", "baseline": "alphabetic", "dy": 2},
"encoding": {
"x": {"field": "mid", "type": "quantitative", "scale": {"domain": [-1.64, 5.69], "nice": false, "zero": false}, "axis": null},
"y": {"field": "level", "type": "quantitative", "scale": {"domain": [220, 340], "nice": false, "zero": false}, "axis": {"values": [220,240,260,280,300,320,340], "minExtent": 51, "title": null}},
"text": {"field": "label"}}}
]},
{"width": 129, "height": 198, "title": {"text": "Iliac bi-spinous diameter", "dx": 13.5},
"data": {"name": "boxes"}, "transform": [{"filter": "datum.panel === 'G'"}],
"layer": [
{"mark": {"type": "bar", "width": 23.5, "strokeWidth": 1},
"encoding": {
"x": {"field": "g", "type": "quantitative", "scale": {"domain": [-1.08, 3.98], "nice": false, "zero": false}, "axis": null},
"y": {"field": "q1", "type": "quantitative", "scale": {"domain": [190, 310], "nice": false, "zero": false}, "axis": {"values": [190,210,230,250,270,290,310], "minExtent": 70, "title": null}},
"y2": {"field": "q3"},
"color": {"field": "group", "type": "nominal", "scale": {"domain": ["p1","p2"], "range": ["#4472C4","#ED7D31"]}, "legend": {"title": "G", "legendX": 135, "legendY": 36}},
"stroke": {"field": "group", "type": "nominal", "scale": {"domain": ["p1","p2"], "range": ["#2F528F","#AE5A21"]}, "legend": null}}},
{"mark": {"type": "rule", "strokeWidth": 1},
"encoding": {
"x": {"field": "g", "type": "quantitative", "scale": {"domain": [-1.08, 3.98], "nice": false, "zero": false}, "axis": null},
"y": {"field": "min", "type": "quantitative", "scale": {"domain": [190, 310], "nice": false, "zero": false}, "axis": {"values": [190,210,230,250,270,290,310], "minExtent": 70, "title": null}},
"y2": {"field": "max"},
"color": {"field": "group", "type": "nominal", "scale": {"domain": ["p1","p2"], "range": ["#4472C4","#ED7D31"]}, "legend": {"title": "G", "legendX": 135, "legendY": 36}}}},
{"transform": [{"fold": ["min","max"], "as": ["k","v"]}, {"filter": "datum.k === 'max' || datum.min < datum.q1"}],
"mark": {"type": "tick", "orient": "horizontal", "size": 6, "thickness": 1},
"encoding": {
"x": {"field": "g", "type": "quantitative", "scale": {"domain": [-1.08, 3.98], "nice": false, "zero": false}, "axis": null},
"y": {"field": "v", "type": "quantitative", "scale": {"domain": [190, 310], "nice": false, "zero": false}, "axis": {"values": [190,210,230,250,270,290,310], "minExtent": 70, "title": null}},
"color": {"field": "group", "type": "nominal", "scale": {"domain": ["p1","p2"], "range": ["#4472C4","#ED7D31"]}, "legend": {"title": "G", "legendX": 135, "legendY": 36}}}},
{"mark": {"type": "tick", "orient": "horizontal", "size": 23.5, "thickness": 1},
"encoding": {
"x": {"field": "g", "type": "quantitative", "scale": {"domain": [-1.08, 3.98], "nice": false, "zero": false}, "axis": null},
"y": {"field": "median", "type": "quantitative", "scale": {"domain": [190, 310], "nice": false, "zero": false}, "axis": {"values": [190,210,230,250,270,290,310], "minExtent": 70, "title": null}},
"fill": {"field": "group", "type": "nominal", "scale": {"domain": ["p1","p2"], "range": ["#2F528F","#AE5A21"]}, "legend": null}}},
{"transform": [{"filter": "isValid(datum.mean)"}],
"mark": {"type": "point", "shape": "M-1,-1L1,1M-1,1L1,-1", "size": 64, "filled": false, "strokeWidth": 1},
"encoding": {
"x": {"field": "g", "type": "quantitative", "scale": {"domain": [-1.08, 3.98], "nice": false, "zero": false}, "axis": null},
"y": {"field": "mean", "type": "quantitative", "scale": {"domain": [190, 310], "nice": false, "zero": false}, "axis": {"values": [190,210,230,250,270,290,310], "minExtent": 70, "title": null}},
"stroke": {"field": "group", "type": "nominal", "scale": {"domain": ["p1","p2"], "range": ["#2F528F","#AE5A21"]}, "legend": null}}},
{"data": {"name": "pts"},
"mark": {"type": "point", "shape": "circle", "size": 22, "filled": true, "fill": "#4472C4", "stroke": "#2F528F", "strokeWidth": 1, "opacity": 1},
"encoding": {
"x": {"field": "g", "type": "quantitative", "scale": {"domain": [-1.08, 3.98], "nice": false, "zero": false}, "axis": null},
"y": {"field": "value", "type": "quantitative", "scale": {"domain": [190, 310], "nice": false, "zero": false}, "axis": {"values": [190,210,230,250,270,290,310], "minExtent": 70, "title": null}}}},
{"data": {"name": "brackets"}, "transform": [{"filter": "datum.panel === 'G'"}],
"mark": {"type": "rule", "color": "#7F7F7F", "strokeWidth": 1.2},
"encoding": {
"x": {"field": "x1", "type": "quantitative", "scale": {"domain": [-1.08, 3.98], "nice": false, "zero": false}, "axis": null},
"x2": {"field": "x2"},
"y": {"field": "level", "type": "quantitative", "scale": {"domain": [190, 310], "nice": false, "zero": false}, "axis": {"values": [190,210,230,250,270,290,310], "minExtent": 70, "title": null}}}},
{"data": {"name": "brackets"}, "transform": [{"filter": "datum.panel === 'G'"}, {"fold": ["x1","x2"], "as": ["e","xe"]}],
"mark": {"type": "rule", "color": "#7F7F7F", "strokeWidth": 1.2},
"encoding": {
"x": {"field": "xe", "type": "quantitative", "scale": {"domain": [-1.08, 3.98], "nice": false, "zero": false}, "axis": null},
"y": {"field": "level", "type": "quantitative", "scale": {"domain": [190, 310], "nice": false, "zero": false}, "axis": {"values": [190,210,230,250,270,290,310], "minExtent": 70, "title": null}},
"y2": {"field": "tip"}}},
{"data": {"name": "brackets"}, "transform": [{"filter": "datum.panel === 'G'"}, {"fold": ["x1","x2"], "as": ["e","xe"]}, {"aggregate": [{"op": "mean", "field": "xe", "as": "mid"}], "groupby": ["id","level","label"]}],
"mark": {"type": "text", "fontSize": 14, "color": "#595959", "baseline": "alphabetic", "dy": 2},
"encoding": {
"x": {"field": "mid", "type": "quantitative", "scale": {"domain": [-1.08, 3.98], "nice": false, "zero": false}, "axis": null},
"y": {"field": "level", "type": "quantitative", "scale": {"domain": [190, 310], "nice": false, "zero": false}, "axis": {"values": [190,210,230,250,270,290,310], "minExtent": 70, "title": null}},
"text": {"field": "label"}}}
]},
{"width": 128, "height": 198, "title": {"text": "External conjugata", "dx": 13},
"data": {"name": "boxes"}, "transform": [{"filter": "datum.panel === 'H'"}],
"layer": [
{"mark": {"type": "bar", "width": 16, "strokeWidth": 1},
"encoding": {
"x": {"field": "g", "type": "quantitative", "scale": {"domain": [-1.82, 5.71], "nice": false, "zero": false}, "axis": null},
"y": {"field": "q1", "type": "quantitative", "scale": {"domain": [190, 290], "nice": false, "zero": false}, "axis": {"values": [190,200,210,220,230,240,250,260,270,280,290], "minExtent": 60, "title": null}},
"y2": {"field": "q3"},
"color": {"field": "group", "type": "nominal", "scale": {"domain": ["p1","p2","p3"], "range": ["#4472C4","#ED7D31","#A5A5A5"]}, "legend": {"title": "H", "legendX": 144, "legendY": 36}},
"stroke": {"field": "group", "type": "nominal", "scale": {"domain": ["p1","p2","p3"], "range": ["#2F528F","#AE5A21","#787878"]}, "legend": null}}},
{"mark": {"type": "rule", "strokeWidth": 1},
"encoding": {
"x": {"field": "g", "type": "quantitative", "scale": {"domain": [-1.82, 5.71], "nice": false, "zero": false}, "axis": null},
"y": {"field": "min", "type": "quantitative", "scale": {"domain": [190, 290], "nice": false, "zero": false}, "axis": {"values": [190,200,210,220,230,240,250,260,270,280,290], "minExtent": 60, "title": null}},
"y2": {"field": "max"},
"color": {"field": "group", "type": "nominal", "scale": {"domain": ["p1","p2","p3"], "range": ["#4472C4","#ED7D31","#A5A5A5"]}, "legend": {"title": "H", "legendX": 144, "legendY": 36}}}},
{"transform": [{"fold": ["min","max"], "as": ["k","v"]}, {"filter": "datum.k === 'max' || datum.min < datum.q1"}],
"mark": {"type": "tick", "orient": "horizontal", "size": 6, "thickness": 1},
"encoding": {
"x": {"field": "g", "type": "quantitative", "scale": {"domain": [-1.82, 5.71], "nice": false, "zero": false}, "axis": null},
"y": {"field": "v", "type": "quantitative", "scale": {"domain": [190, 290], "nice": false, "zero": false}, "axis": {"values": [190,200,210,220,230,240,250,260,270,280,290], "minExtent": 60, "title": null}},
"color": {"field": "group", "type": "nominal", "scale": {"domain": ["p1","p2","p3"], "range": ["#4472C4","#ED7D31","#A5A5A5"]}, "legend": {"title": "H", "legendX": 144, "legendY": 36}}}},
{"mark": {"type": "tick", "orient": "horizontal", "size": 16, "thickness": 1},
"encoding": {
"x": {"field": "g", "type": "quantitative", "scale": {"domain": [-1.82, 5.71], "nice": false, "zero": false}, "axis": null},
"y": {"field": "median", "type": "quantitative", "scale": {"domain": [190, 290], "nice": false, "zero": false}, "axis": {"values": [190,200,210,220,230,240,250,260,270,280,290], "minExtent": 60, "title": null}},
"fill": {"field": "group", "type": "nominal", "scale": {"domain": ["p1","p2","p3"], "range": ["#2F528F","#AE5A21","#787878"]}, "legend": null}}},
{"transform": [{"filter": "isValid(datum.mean)"}],
"mark": {"type": "point", "shape": "M-1,-1L1,1M-1,1L1,-1", "size": 64, "filled": false, "strokeWidth": 1},
"encoding": {
"x": {"field": "g", "type": "quantitative", "scale": {"domain": [-1.82, 5.71], "nice": false, "zero": false}, "axis": null},
"y": {"field": "mean", "type": "quantitative", "scale": {"domain": [190, 290], "nice": false, "zero": false}, "axis": {"values": [190,200,210,220,230,240,250,260,270,280,290], "minExtent": 60, "title": null}},
"stroke": {"field": "group", "type": "nominal", "scale": {"domain": ["p1","p2","p3"], "range": ["#2F528F","#AE5A21","#787878"]}, "legend": null}}},
{"data": {"name": "brackets"}, "transform": [{"filter": "datum.panel === 'H'"}],
"mark": {"type": "rule", "color": "#7F7F7F", "strokeWidth": 1.2},
"encoding": {
"x": {"field": "x1", "type": "quantitative", "scale": {"domain": [-1.82, 5.71], "nice": false, "zero": false}, "axis": null},
"x2": {"field": "x2"},
"y": {"field": "level", "type": "quantitative", "scale": {"domain": [190, 290], "nice": false, "zero": false}, "axis": {"values": [190,200,210,220,230,240,250,260,270,280,290], "minExtent": 60, "title": null}}}},
{"data": {"name": "brackets"}, "transform": [{"filter": "datum.panel === 'H'"}, {"fold": ["x1","x2"], "as": ["e","xe"]}],
"mark": {"type": "rule", "color": "#7F7F7F", "strokeWidth": 1.2},
"encoding": {
"x": {"field": "xe", "type": "quantitative", "scale": {"domain": [-1.82, 5.71], "nice": false, "zero": false}, "axis": null},
"y": {"field": "level", "type": "quantitative", "scale": {"domain": [190, 290], "nice": false, "zero": false}, "axis": {"values": [190,200,210,220,230,240,250,260,270,280,290], "minExtent": 60, "title": null}},
"y2": {"field": "tip"}}},
{"data": {"name": "brackets"}, "transform": [{"filter": "datum.panel === 'H'"}, {"fold": ["x1","x2"], "as": ["e","xe"]}, {"aggregate": [{"op": "mean", "field": "xe", "as": "mid"}], "groupby": ["id","level","label"]}],
"mark": {"type": "text", "fontSize": 14, "color": "#595959", "baseline": "alphabetic", "dy": 2},
"encoding": {
"x": {"field": "mid", "type": "quantitative", "scale": {"domain": [-1.82, 5.71], "nice": false, "zero": false}, "axis": null},
"y": {"field": "level", "type": "quantitative", "scale": {"domain": [190, 290], "nice": false, "zero": false}, "axis": {"values": [190,200,210,220,230,240,250,260,270,280,290], "minExtent": 60, "title": null}},
"text": {"field": "label"}}}
]}
]}
]
}
